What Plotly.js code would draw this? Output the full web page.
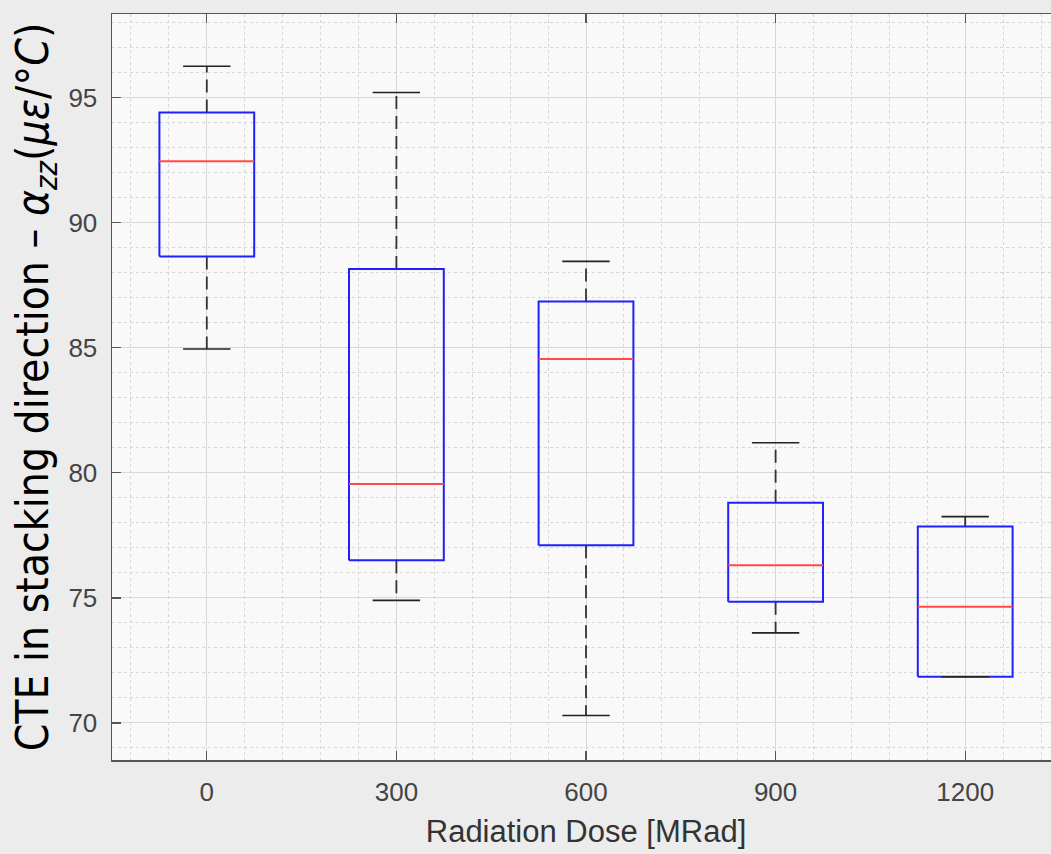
<!DOCTYPE html>
<html>
<head>
<meta charset="utf-8">
<script src="https://cdn.plot.ly/plotly-3.0.1.min.js"></script>
<style>
html,body{margin:0;padding:0;overflow:hidden;background:#ececec;}
#chart{width:1060px;height:854px;}
</style>
</head>
<body>
<div id="chart"></div>
<script>
// Data
const doses = ['0', '300', '600', '900', '1200'];
const upperWhisker = [96.25, 95.2, 88.45, 81.2, 78.25];
const q3 = [94.4, 88.15, 86.85, 78.8, 77.85];
const median = [92.45, 79.55, 84.55, 76.3, 74.65];
const q1 = [88.65, 76.5, 77.1, 74.85, 71.85];
const lowerWhisker = [84.95, 74.9, 70.3, 73.6, 71.85];
const yTicks = [70, 75, 80, 85, 90, 95];

const boxHalf = 0.25, capHalf = 0.125;
const pos = doses.map((d, i) => i);

function segs(fn) {
  const x = [], y = [];
  pos.forEach(i => { const s = fn(i); x.push(...s.x, null); y.push(...s.y, null); });
  return {x, y};
}

const wh = segs(i => ({x: [i, i, null, i, i], y: [q3[i], upperWhisker[i], null, q1[i], lowerWhisker[i]]}));
const bx = segs(i => ({x: [i-boxHalf, i+boxHalf, i+boxHalf, i-boxHalf, i-boxHalf], y: [q1[i], q1[i], q3[i], q3[i], q1[i]]}));
const md = segs(i => ({x: [i-boxHalf, i+boxHalf], y: [median[i], median[i]]}));
const cp = segs(i => ({x: [i-capHalf, i+capHalf, null, i-capHalf, i+capHalf], y: [upperWhisker[i], upperWhisker[i], null, lowerWhisker[i], lowerWhisker[i]]}));

const traces = [
  {type: 'scatter', mode: 'lines', x: wh.x, y: wh.y, line: {color: '#333', width: 1.8, dash: '13px,7px'}, hoverinfo: 'skip', showlegend: false},
  {type: 'scatter', mode: 'lines', x: bx.x, y: bx.y, line: {color: '#2020ff', width: 2}, hoverinfo: 'skip', showlegend: false},
  {type: 'scatter', mode: 'lines', x: md.x, y: md.y, line: {color: '#ff4a4a', width: 2}, hoverinfo: 'skip', showlegend: false},
  {type: 'scatter', mode: 'lines', x: cp.x, y: cp.y, line: {color: '#222', width: 1.6}, hoverinfo: 'skip', showlegend: false}
];

const axisCommon = {
  showline: true, linecolor: '#555', linewidth: 1.5, mirror: 'ticks',
  ticks: 'inside', ticklen: 9, tickcolor: '#555', tickwidth: 1.3,
  showgrid: true, gridcolor: '#d8d8d8', gridwidth: 1,
  zeroline: false,
  tickfont: {family: 'Liberation Sans, Arial, sans-serif', size: 26, color: '#444'}
};

const layout = {
  width: 1060, height: 854,
  margin: {l: 112, r: 0, t: 14, b: 94},
  paper_bgcolor: '#ececec',
  plot_bgcolor: '#f9f9f9',
  showlegend: false,
  xaxis: Object.assign({}, axisCommon, {
    range: [-0.5, 4.5],
    tickmode: 'array', tickvals: pos, ticktext: doses,
    ticklabelstandoff: 8,
    minor: {dtick: 0.2, tick0: 0, showgrid: true, gridcolor: '#d6d6d6', griddash: 'dot', ticks: ''},
    title: {text: 'Radiation Dose [MRad]', font: {family: 'Liberation Sans, Arial, sans-serif', size: 31, color: '#333'}, standoff: 14}
  }),
  yaxis: Object.assign({}, axisCommon, {
    range: [68.52, 98.34],
    tickmode: 'array', tickvals: yTicks,
    ticklabelstandoff: 8,
    minor: {dtick: 1, tick0: 0, showgrid: true, gridcolor: '#d6d6d6', griddash: 'dot', ticks: ''},
    title: {text: 'CTE in stacking direction – <i>α</i><sub><i>zz</i></sub>(<i>με</i>/°<i>C</i>)', font: {family: 'Liberation Sans Narrow, DejaVu Sans Condensed, sans-serif', size: 44, color: '#000'}, standoff: 6}
  })
};

Plotly.newPlot('chart', traces, layout, {displayModeBar: false, staticPlot: true});
</script>
</body>
</html>
